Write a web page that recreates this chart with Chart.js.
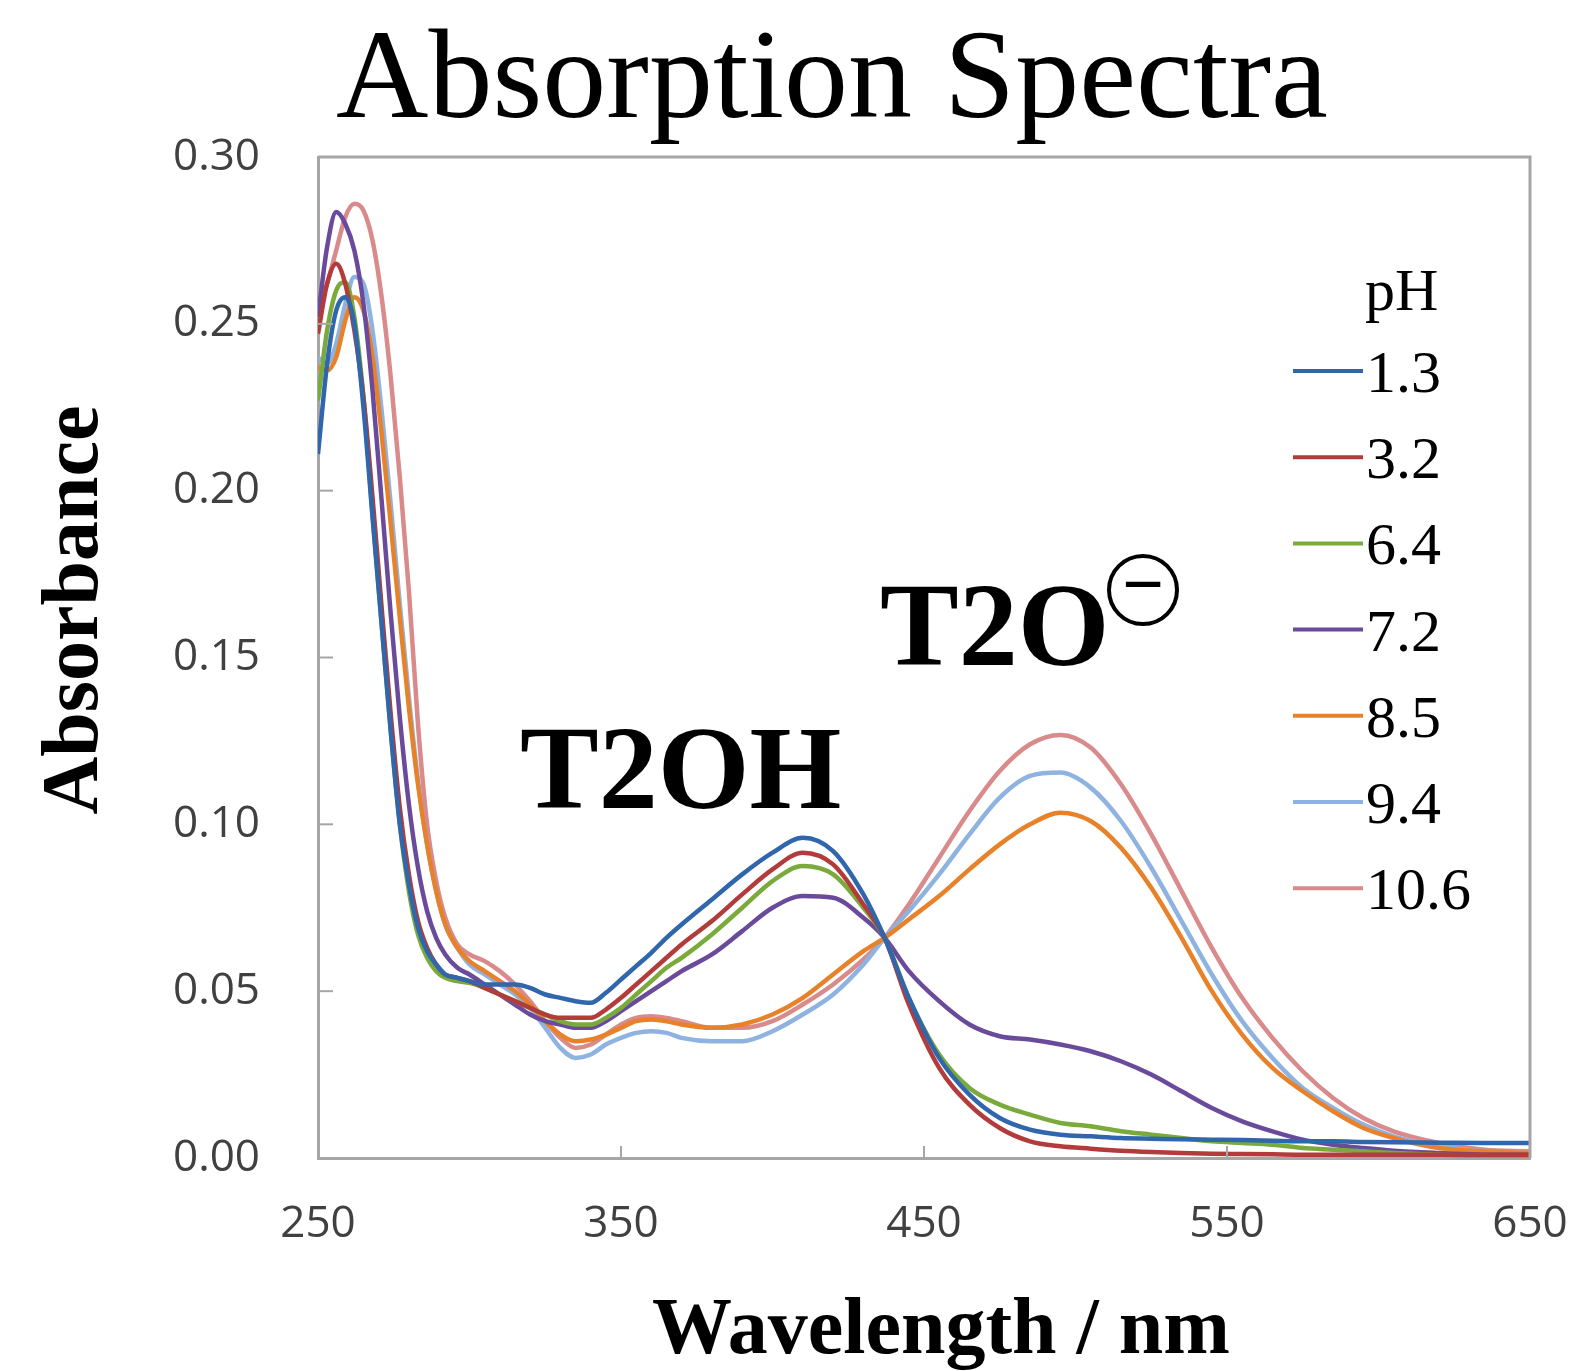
<!DOCTYPE html>
<html>

<head>
    <title>Absorption Spectra</title>
    <style>
        body { margin: 0; background: #fff; }
    </style>
</head>

<body>
    <canvas id="myChart" width="1569" height="1371"></canvas>
    <script src="https://cdn.jsdelivr.net/npm/chart.js@4"></script>
    <script type="text/javascript">
        const wavelengths = [250, 253, 256, 259, 262, 265, 268, 271, 274, 277, 280, 283, 286, 289, 292, 296, 300, 305, 310, 315, 320, 325, 330, 335, 340, 345, 350, 355, 360, 365, 370, 380, 390, 400, 410, 420, 430, 437, 445, 455, 465, 475, 485, 495, 505, 515, 525, 535, 545, 555, 565, 575, 585, 595, 605, 620, 635, 650];

        const ph13 = [0.211, 0.238, 0.254, 0.258, 0.250, 0.225, 0.192, 0.160, 0.128, 0.100, 0.082, 0.069, 0.062, 0.058, 0.055, 0.054, 0.053, 0.052, 0.052, 0.052, 0.051, 0.049, 0.048, 0.047, 0.0465, 0.0495, 0.0535, 0.0575, 0.0615, 0.066, 0.070, 0.0775, 0.085, 0.0915, 0.096, 0.092, 0.079, 0.066, 0.048, 0.030, 0.019, 0.012, 0.0085, 0.007, 0.0065, 0.006, 0.0058, 0.0056, 0.0055, 0.0054, 0.0052, 0.005, 0.005, 0.0048, 0.0047, 0.0046, 0.0045, 0.0045];
        const ph32 = [0.247, 0.262, 0.268, 0.262, 0.248, 0.228, 0.198, 0.165, 0.133, 0.105, 0.085, 0.071, 0.063, 0.058, 0.055, 0.054, 0.053, 0.051, 0.049, 0.047, 0.045, 0.043, 0.042, 0.042, 0.042, 0.0445, 0.048, 0.052, 0.056, 0.060, 0.064, 0.071, 0.079, 0.0865, 0.0915, 0.088, 0.076, 0.066, 0.046, 0.027, 0.016, 0.009, 0.005, 0.0035, 0.0028, 0.0022, 0.0018, 0.0015, 0.0013, 0.0012, 0.0011, 0.001, 0.001, 0.001, 0.001, 0.001, 0.001, 0.001];
        const ph64 = [0.227, 0.248, 0.260, 0.2625, 0.252, 0.228, 0.193, 0.160, 0.128, 0.100, 0.080, 0.067, 0.060, 0.056, 0.054, 0.053, 0.0525, 0.051, 0.049, 0.047, 0.045, 0.043, 0.041, 0.040, 0.040, 0.042, 0.045, 0.049, 0.053, 0.057, 0.060, 0.067, 0.075, 0.083, 0.0875, 0.085, 0.075, 0.066, 0.048, 0.031, 0.021, 0.016, 0.013, 0.0105, 0.0095, 0.008, 0.007, 0.006, 0.005, 0.0045, 0.004, 0.003, 0.0025, 0.002, 0.0015, 0.001, 0.0005, 0.0];
        const ph72 = [0.252, 0.273, 0.2835, 0.280, 0.272, 0.256, 0.230, 0.197, 0.163, 0.132, 0.106, 0.087, 0.074, 0.066, 0.061, 0.057, 0.055, 0.052, 0.049, 0.046, 0.043, 0.041, 0.040, 0.039, 0.039, 0.041, 0.044, 0.047, 0.050, 0.053, 0.056, 0.061, 0.068, 0.075, 0.0785, 0.078, 0.072, 0.066, 0.056, 0.047, 0.040, 0.0365, 0.0355, 0.034, 0.032, 0.029, 0.025, 0.020, 0.015, 0.011, 0.008, 0.0055, 0.004, 0.003, 0.0022, 0.0015, 0.001, 0.001];
        const ph85 = [0.237, 0.236, 0.240, 0.251, 0.258, 0.254, 0.240, 0.217, 0.190, 0.162, 0.135, 0.112, 0.094, 0.080, 0.070, 0.063, 0.059, 0.056, 0.053, 0.050, 0.046, 0.041, 0.037, 0.035, 0.0355, 0.037, 0.039, 0.041, 0.0415, 0.041, 0.040, 0.039, 0.040, 0.043, 0.048, 0.055, 0.062, 0.066, 0.0715, 0.0785, 0.0865, 0.094, 0.100, 0.1035, 0.101, 0.093, 0.081, 0.066, 0.050, 0.037, 0.027, 0.020, 0.014, 0.009, 0.006, 0.003, 0.002, 0.0015];
        const ph94 = [0.240, 0.238, 0.244, 0.256, 0.264, 0.262, 0.248, 0.224, 0.196, 0.166, 0.138, 0.113, 0.094, 0.080, 0.070, 0.063, 0.058, 0.055, 0.052, 0.049, 0.045, 0.039, 0.033, 0.030, 0.031, 0.034, 0.036, 0.0375, 0.038, 0.0375, 0.036, 0.035, 0.035, 0.038, 0.043, 0.049, 0.058, 0.066, 0.074, 0.085, 0.097, 0.108, 0.1145, 0.1155, 0.111, 0.101, 0.087, 0.071, 0.055, 0.041, 0.030, 0.021, 0.015, 0.010, 0.0065, 0.0035, 0.002, 0.0015];
        const ph106 = [0.255, 0.262, 0.272, 0.282, 0.286, 0.284, 0.275, 0.258, 0.234, 0.204, 0.170, 0.130, 0.100, 0.083, 0.072, 0.064, 0.061, 0.059, 0.056, 0.052, 0.047, 0.041, 0.036, 0.033, 0.034, 0.037, 0.040, 0.042, 0.0425, 0.042, 0.041, 0.039, 0.039, 0.041, 0.046, 0.052, 0.0595, 0.066, 0.076, 0.090, 0.104, 0.116, 0.124, 0.1268, 0.123, 0.112, 0.097, 0.080, 0.063, 0.048, 0.036, 0.026, 0.018, 0.012, 0.008, 0.0045, 0.0025, 0.002];

        const phLabels = ['1.3', '3.2', '6.4', '7.2', '8.5', '9.4', '10.6'];
        const phSeries = [ph13, ph32, ph64, ph72, ph85, ph94, ph106];
        const phColors = ['#2f66ac', '#b23b3b', '#7aaa3c', '#6a4a9a', '#e8822a', '#8fb3e0', '#d98a8a'];

        const serif = '"Liberation Serif", "Times New Roman", serif';

        // title, axis titles, annotations, legend and inner ticks
        const extras = {
            id: 'extras',
            afterDraw(chart) {
                const ctx = chart.ctx;
                const a = chart.chartArea;
                ctx.save();
                // frame on top and right
                ctx.strokeStyle = '#a6a6a6';
                ctx.lineWidth = 3;
                ctx.beginPath();
                ctx.moveTo(a.left, a.top);
                ctx.lineTo(a.right, a.top);
                ctx.lineTo(a.right, a.bottom);
                ctx.stroke();
                // inner ticks
                ctx.lineWidth = 2;
                const ys = chart.scales.y, xs = chart.scales.x;
                ys.ticks.forEach(t => {
                    const py = ys.getPixelForValue(t.value);
                    ctx.beginPath(); ctx.moveTo(a.left, py); ctx.lineTo(a.left + 15, py); ctx.stroke();
                });
                xs.ticks.forEach(t => {
                    const px = xs.getPixelForValue(t.value);
                    ctx.beginPath(); ctx.moveTo(px, a.bottom); ctx.lineTo(px, a.bottom - 12); ctx.stroke();
                });

                ctx.fillStyle = '#000';
                ctx.textBaseline = 'alphabetic';
                ctx.textAlign = 'center';
                ctx.font = '128px ' + serif;
                ctx.fillText('Absorption Spectra', 832, 117);

                ctx.font = 'bold 80px ' + serif;
                ctx.fillText('Wavelength / nm', 941, 1353);
                ctx.save();
                ctx.translate(97, 610);
                ctx.rotate(-Math.PI / 2);
                ctx.fillText('Absorbance', 0, 0);
                ctx.restore();

                ctx.textAlign = 'left';
                ctx.font = 'bold 118px ' + serif;
                ctx.fillText('T2OH', 520, 808);
                ctx.fillText('T2O', 880, 665);
                // circled minus charge
                ctx.strokeStyle = '#000';
                ctx.lineWidth = 4;
                ctx.beginPath();
                ctx.arc(1143, 590, 34, 0, Math.PI * 2);
                ctx.stroke();
                ctx.textAlign = 'center';
                ctx.textBaseline = 'middle';
                ctx.font = 'bold 74px ' + serif;
                ctx.fillText('\u2212', 1143, 590);

                // legend
                ctx.textBaseline = 'alphabetic';
                ctx.textAlign = 'left';
                ctx.font = '60px ' + serif;
                ctx.fillText('pH', 1365, 310);
                chart.data.datasets.forEach((ds, i) => {
                    const cy = 371 + i * 86.2;
                    ctx.strokeStyle = ds.borderColor;
                    ctx.lineWidth = 4;
                    ctx.beginPath(); ctx.moveTo(1293, cy); ctx.lineTo(1363, cy); ctx.stroke();
                    ctx.fillStyle = '#000';
                    ctx.fillText(ds.label, 1366, cy + 21);
                });
                ctx.restore();
            }
        };

        const tickFont = { family: '"Open Sans", sans-serif', size: 44 };

        const ctx = document.getElementById('myChart').getContext('2d');
        const chart = new Chart(ctx, {
            type: 'line',
            data: {
                datasets: phSeries.map((vals, i) => ({
                    label: phLabels[i],
                    data: wavelengths.map((w, j) => ({ x: w, y: vals[j] })),
                    borderColor: phColors[i],
                    borderWidth: 4.5,
                    pointRadius: 0,
                    fill: false,
                    cubicInterpolationMode: 'monotone'
                }))
            },
            options: {
                responsive: false,
                animation: false,
                layout: { padding: { left: 0, top: 157, right: 39, bottom: 0 } },
                plugins: { legend: { display: false }, tooltip: { enabled: false }, title: { display: false } },
                scales: {
                    x: {
                        type: 'linear', min: 250, max: 650,
                        afterFit: s => { s.height = 213; s.paddingLeft = 0; s.paddingRight = 0; },
                        grid: { display: false, drawTicks: false, tickLength: 0 },
                        border: { display: true, color: '#a6a6a6', width: 3 },
                        ticks: { stepSize: 100, padding: 40, color: '#404040', font: tickFont }
                    },
                    y: {
                        min: 0, max: 0.3,
                        afterFit: s => { s.width = 318; s.paddingTop = 0; s.paddingBottom = 0; },
                        grid: { display: false, drawTicks: false, tickLength: 0 },
                        border: { display: true, color: '#a6a6a6', width: 3 },
                        ticks: { stepSize: 0.05, padding: 58, color: '#404040', callback: v => v.toFixed(2), font: tickFont }
                    }
                }
            },
            plugins: [extras]
        });
    </script>
</body>

</html>
